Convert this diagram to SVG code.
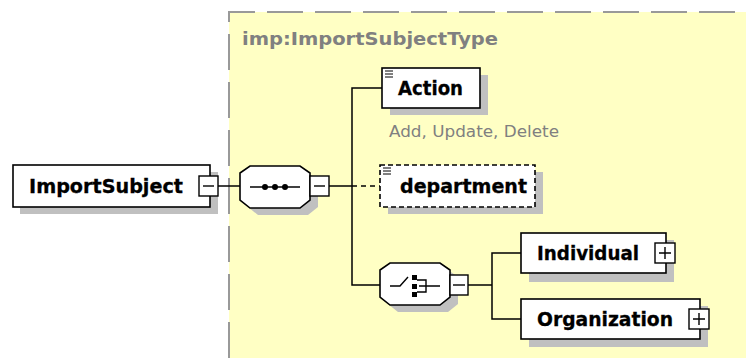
<svg xmlns="http://www.w3.org/2000/svg" width="746" height="358" viewBox="0 0 746 358">
<defs>
<style>
.box{fill:#fff;stroke:#000;stroke-width:1.6}
.shadow{fill:#c0c0c0}
.lbl{font-family:"DejaVu Sans","Liberation Sans",sans-serif;font-weight:bold;font-size:19px;fill:#000;stroke:#000;stroke-width:0.3}
.pm{fill:#fff;stroke:#000;stroke-width:1.4}
.pml{stroke:#000;stroke-width:1.4;fill:none}
.conn{stroke:#000;stroke-width:1.5;fill:none}
.gray{font-family:"DejaVu Sans","Liberation Sans",sans-serif;fill:#808080}
</style>
</defs>
<rect width="746" height="358" fill="#fff"/>
<g id="type-area">
<rect x="229" y="12" width="520" height="350" fill="#ffffc4"/>
<path d="M229,358 V12 H746" fill="none" stroke="#999" stroke-width="2" stroke-dasharray="36,12"/>
<text class="gray" x="242" y="45" font-size="18" font-weight="bold" textLength="256" lengthAdjust="spacingAndGlyphs">imp:ImportSubjectType</text>
</g>
<g id="connectors">
<path class="conn" d="M218,186 H240"/>
<path class="conn" d="M328,186 H352"/>
<path class="conn" d="M352,186 H380" stroke-dasharray="5,4"/>
<path class="conn" d="M382,88 H352 V285 H380"/>
<path class="conn" d="M468,285 H492"/>
<path class="conn" d="M521,253 H492 V319 H521"/>
</g>
<g id="ImportSubject">
<rect class="shadow" x="20" y="172" width="198" height="42"/>
<rect class="box" x="13" y="165" width="197" height="42"/>
<text class="lbl" x="29" y="193" textLength="154" lengthAdjust="spacingAndGlyphs">ImportSubject</text>
<rect class="pm" x="199" y="176" width="19" height="20"/>
<path class="pml" d="M203,186 H214"/>
</g>
<g id="sequence">
<polygon class="shadow" points="258,173 308,173 318,180 318,207 308,215 258,215 248,207 248,180"/>
<polygon class="box" points="250,166 300,166 310,173 310,200 300,208 250,208 240,200 240,173"/>
<path class="pml" d="M250,187 H300" stroke-width="1.6"/>
<circle cx="265" cy="187" r="3" fill="#000"/>
<circle cx="275" cy="187" r="3" fill="#000"/>
<circle cx="285" cy="187" r="3" fill="#000"/>
<rect class="pm" x="310" y="176" width="19" height="20"/>
<path class="pml" d="M314,186 H325"/>
</g>
<g id="Action">
<rect class="shadow" x="390" y="75" width="98" height="40"/>
<rect class="box" x="382" y="68" width="98" height="40"/>
<path d="M385,71 H393 M385,74 H393 M385,77 H393" stroke="#000" stroke-width="1"/>
<text class="lbl" x="398" y="95" textLength="65" lengthAdjust="spacingAndGlyphs">Action</text>
<text class="gray" x="389" y="137" font-size="16" textLength="170" lengthAdjust="spacingAndGlyphs">Add, Update, Delete</text>
</g>
<g id="department">
<rect class="shadow" x="388" y="172" width="155" height="42"/>
<rect class="box" x="380" y="165" width="155" height="42" stroke-dasharray="5,3"/>
<path d="M383,168 H391 M383,171 H391 M383,174 H391" stroke="#000" stroke-width="1"/>
<text class="lbl" x="400" y="193" textLength="127" lengthAdjust="spacingAndGlyphs">department</text>
</g>
<g id="choice">
<polygon class="shadow" points="398,270 448,270 458,277 458,304 448,312 398,312 388,304 388,277"/>
<polygon class="box" points="390,263 440,263 450,270 450,297 440,305 390,305 380,297 380,270"/>
<path class="pml" d="M390,286 H400 L408,277" stroke-width="1.6"/>
<rect x="412" y="275" width="5" height="5" fill="#000"/>
<rect x="412" y="284" width="5" height="5" fill="#000"/>
<rect x="412" y="292" width="5" height="5" fill="#000"/>
<path class="pml" d="M417,280 H426 V292 H417 M419,286 H440" stroke-width="1.6"/>
<rect class="pm" x="450" y="275" width="18" height="20"/>
<path class="pml" d="M453,285 H465"/>
</g>
<g id="Individual">
<rect class="shadow" x="529" y="240" width="145" height="42"/>
<rect class="box" x="521" y="233" width="145" height="40"/>
<text class="lbl" x="537" y="260" textLength="102" lengthAdjust="spacingAndGlyphs">Individual</text>
<rect class="pm" x="655" y="243" width="20" height="20"/>
<path class="pml" d="M659,253 H671 M665,247 V259"/>
</g>
<g id="Organization">
<rect class="shadow" x="529" y="306" width="179" height="41"/>
<rect class="box" x="521" y="299" width="179" height="40"/>
<text class="lbl" x="537" y="326" textLength="136" lengthAdjust="spacingAndGlyphs">Organization</text>
<rect class="pm" x="689" y="309" width="20" height="20"/>
<path class="pml" d="M693,319 H705 M699,313 V325"/>
</g>
</svg>
